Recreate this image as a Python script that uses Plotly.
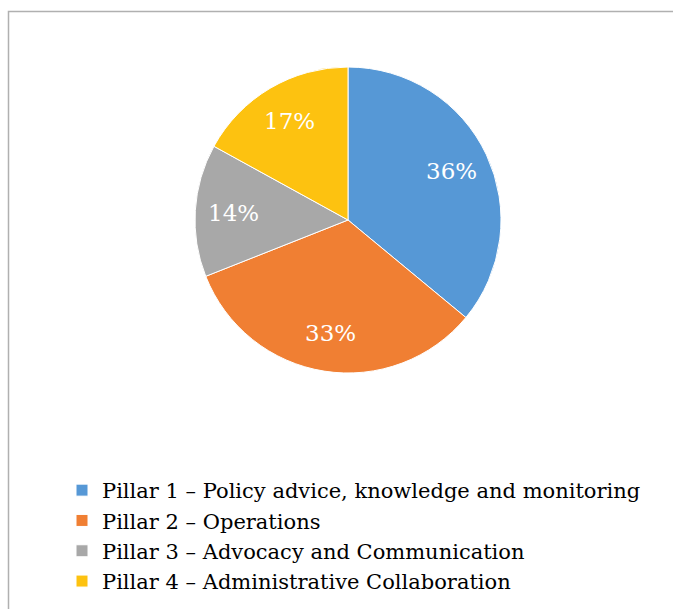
import math
import plotly.graph_objects as go

labels = [
    "Pillar 1 – Policy advice, knowledge and monitoring",
    "Pillar 2 – Operations",
    "Pillar 3 – Advocacy and Communication",
    "Pillar 4 – Administrative Collaboration",
]
values = [36, 33, 14, 17]
colors = ["#5698d6", "#f07f33", "#a8a8a8", "#fdc210"]

W, H = 673, 609
cx, cy, r = 348, 220, 153
label_frac = 0.75

fig = go.Figure(go.Pie(
    labels=labels,
    values=values,
    sort=False,
    direction="clockwise",
    rotation=0,
    marker=dict(colors=colors, line=dict(color="white", width=1)),
    textinfo="none",
    domain=dict(x=[(cx - r) / W, (cx + r) / W], y=[1 - (cy + r) / H, 1 - (cy - r) / H]),
    hoverinfo="label+percent",
))

# data labels placed along each slice's mid-angle
total = sum(values)
annotations = []
cum = 0
for v in values:
    mid = (cum + v / 2) / total
    cum += v
    th = 2 * math.pi * mid
    px = cx + label_frac * r * math.sin(th)
    py = cy - label_frac * r * math.cos(th)
    annotations.append(dict(
        x=px / W, y=1 - py / H, xref="paper", yref="paper",
        text=f"{round(100 * v / total)}%", showarrow=False,
        font=dict(family="DejaVu Serif", size=23, color="white"),
        xanchor="center", yanchor="middle",
    ))

fig.update_layout(
    width=W, height=H,
    margin=dict(l=0, r=0, t=0, b=0),
    paper_bgcolor="white",
    plot_bgcolor="white",
    showlegend=True,
    annotations=annotations,
    legend=dict(
        x=62 / W, xanchor="left",
        y=1 - 470 / H, yanchor="top",
        font=dict(family="DejaVu Serif", size=21, color="black"),
        itemwidth=30,
        tracegroupgap=0,
        bgcolor="rgba(0,0,0,0)",
    ),
    shapes=[dict(
        type="rect", xref="paper", yref="paper",
        x0=8.5 / W, x1=1.05, y0=-0.05, y1=1 - 11.5 / H,
        line=dict(color="#b0b0b0", width=1.5),
        fillcolor="rgba(0,0,0,0)",
        layer="below",
    )],
)

fig.write_html("out.html")
